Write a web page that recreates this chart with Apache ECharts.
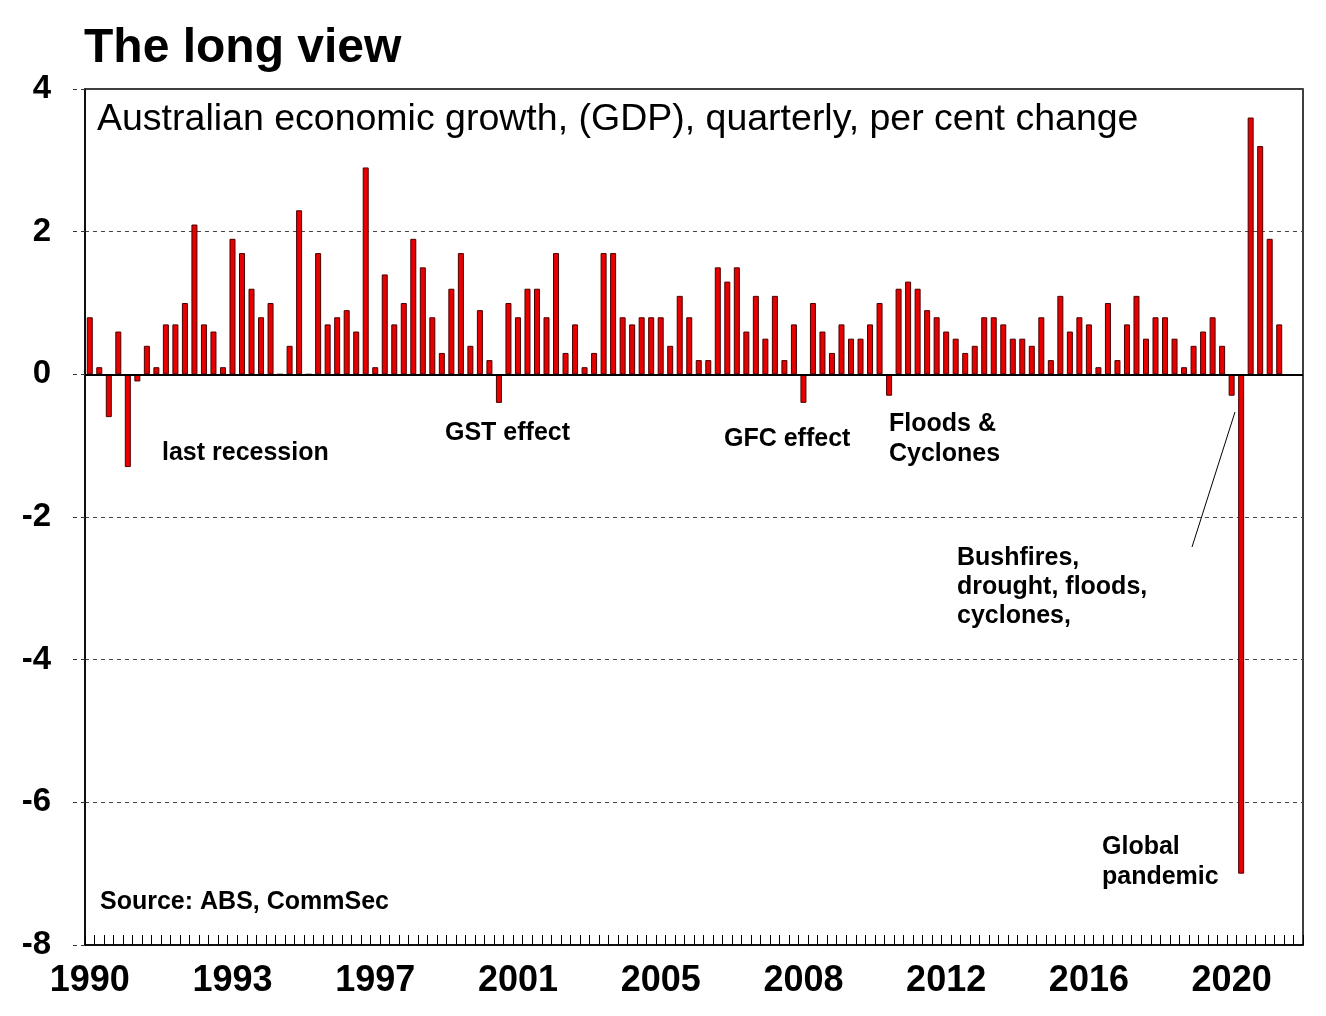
<!DOCTYPE html>
<html>
<head>
<meta charset="utf-8">
<script src="https://cdn.jsdelivr.net/npm/echarts@6/dist/echarts.min.js"></script>
<style>
html,body{margin:0;padding:0;background:#fff;}
#chart{width:1326px;height:1016px;}
</style>
</head>
<body>
<div id="chart"></div>
<script>
// Quarterly GDP growth, per cent, 1990Q1 .. 2021Q2
var gdpGrowth = [
  0.8, 0.1, -0.6, 0.6, -1.3, -0.1, 0.4, 0.1, 0.7, 0.7,
  1.0, 2.1, 0.7, 0.6, 0.1, 1.9, 1.7, 1.2, 0.8, 1.0,
  0.0, 0.4, 2.3, 0.0, 1.7, 0.7, 0.8, 0.9, 0.6, 2.9,
  0.1, 1.4, 0.7, 1.0, 1.9, 1.5, 0.8, 0.3, 1.2, 1.7,
  0.4, 0.9, 0.2, -0.4, 1.0, 0.8, 1.2, 1.2, 0.8, 1.7,
  0.3, 0.7, 0.1, 0.3, 1.7, 1.7, 0.8, 0.7, 0.8, 0.8,
  0.8, 0.4, 1.1, 0.8, 0.2, 0.2, 1.5, 1.3, 1.5, 0.6,
  1.1, 0.5, 1.1, 0.2, 0.7, -0.4, 1.0, 0.6, 0.3, 0.7,
  0.5, 0.5, 0.7, 1.0, -0.3, 1.2, 1.3, 1.2, 0.9, 0.8,
  0.6, 0.5, 0.3, 0.4, 0.8, 0.8, 0.7, 0.5, 0.5, 0.4,
  0.8, 0.2, 1.1, 0.6, 0.8, 0.7, 0.1, 1.0, 0.2, 0.7,
  1.1, 0.5, 0.8, 0.8, 0.5, 0.1, 0.4, 0.6, 0.8, 0.4,
  -0.3, -7.0, 3.6, 3.2, 1.9, 0.7
];
// x tick labels, one every 15 quarters
var xTickLabels = ['1990', '1993', '1997', '2001', '2005', '2008', '2012', '2016', '2020'];
var yTicks = { min: -8, max: 4, interval: 2 };
// categories: quarters 1990Q1 .. 2021Q4
var startYear = 1990, nQuarters = 128;
var quarters = [];
for (var i = 0; i < nQuarters; i++) {
  quarters.push((startYear + Math.floor(i / 4)) + 'Q' + (i % 4 + 1));
}

var FONT = '"Liberation Sans", Arial, sans-serif';
var chart = echarts.init(document.getElementById('chart'));

function txt(text, x, y, size, weight, lh) {
  return {
    type: 'text', x: x, y: y, silent: true,
    style: {
      text: text, fill: '#000',
      font: (weight || 'bold') + ' ' + size + 'px ' + FONT,
      lineHeight: lh || size,
      textAlign: 'left', textVerticalAlign: 'middle'
    }
  };
}

chart.setOption({
  animation: false,
  backgroundColor: '#fff',
  title: {
    text: 'The long view', left: 84, top: 25, padding: 0,
    textStyle: { fontFamily: FONT, fontWeight: 'bold', fontSize: 48, color: '#000' }
  },
  grid: {
    left: 85, right: 23, top: 89, bottom: 71,
    show: true, borderColor: '#000', borderWidth: 1.5, backgroundColor: 'transparent'
  },
  xAxis: {
    type: 'category', data: quarters, boundaryGap: true,
    axisLine: { show: true, onZero: false, lineStyle: { color: '#000', width: 1.5 } },
    axisTick: { show: true, interval: 0, inside: true, length: 10, lineStyle: { color: '#000', width: 1 } },
    axisLabel: {
      interval: 14, margin: 18,
      fontFamily: FONT, fontWeight: 'bold', fontSize: 36, color: '#000',
      formatter: function (v, idx) { return xTickLabels[Math.round(idx / 15)] || ''; }
    },
    splitLine: { show: false }
  },
  yAxis: {
    type: 'value', min: yTicks.min, max: yTicks.max, interval: yTicks.interval,
    axisLine: { show: true, lineStyle: { color: '#000', width: 1.5 } },
    axisTick: { show: true, length: 16, lineStyle: { color: '#333', width: 1, type: [4, 4] } },
    axisLabel: {
      margin: 34, fontFamily: FONT, fontWeight: 'bold', fontSize: 33, color: '#000'
    },
    splitLine: { show: true, lineStyle: { color: '#444', width: 1, type: [4, 4] } }
  },
  series: [{
    type: 'bar',
    data: gdpGrowth,
    barWidth: 6,
    itemStyle: { color: '#e60000', borderColor: '#4a0000', borderWidth: 1 },
    markLine: {
      silent: true, symbol: 'none', animation: false,
      label: { show: false },
      lineStyle: { color: '#000', width: 2, type: 'solid' },
      data: [{ yAxis: 0 }]
    }
  }],
  graphic: [
    txt('Australian economic growth, (GDP), quarterly, per cent change', 97, 120, 37.5, 'normal'),
    txt('Source: ABS, CommSec', 100, 902, 25),
    txt('last recession', 162, 453, 25),
    txt('GST effect', 445, 433, 25),
    txt('GFC effect', 724, 439, 25),
    txt('Floods &\nCyclones', 889, 439, 25, 'bold', 30),
    txt('Bushfires,\ndrought, floods,\ncyclones,', 957, 587, 25, 'bold', 29),
    txt('Global\npandemic', 1102, 862, 25, 'bold', 30),
    {
      type: 'line', silent: true,
      shape: { x1: 1192, y1: 547, x2: 1235, y2: 412 },
      style: { stroke: '#000', lineWidth: 1 }
    }
  ]
});
</script>
</body>
</html>
